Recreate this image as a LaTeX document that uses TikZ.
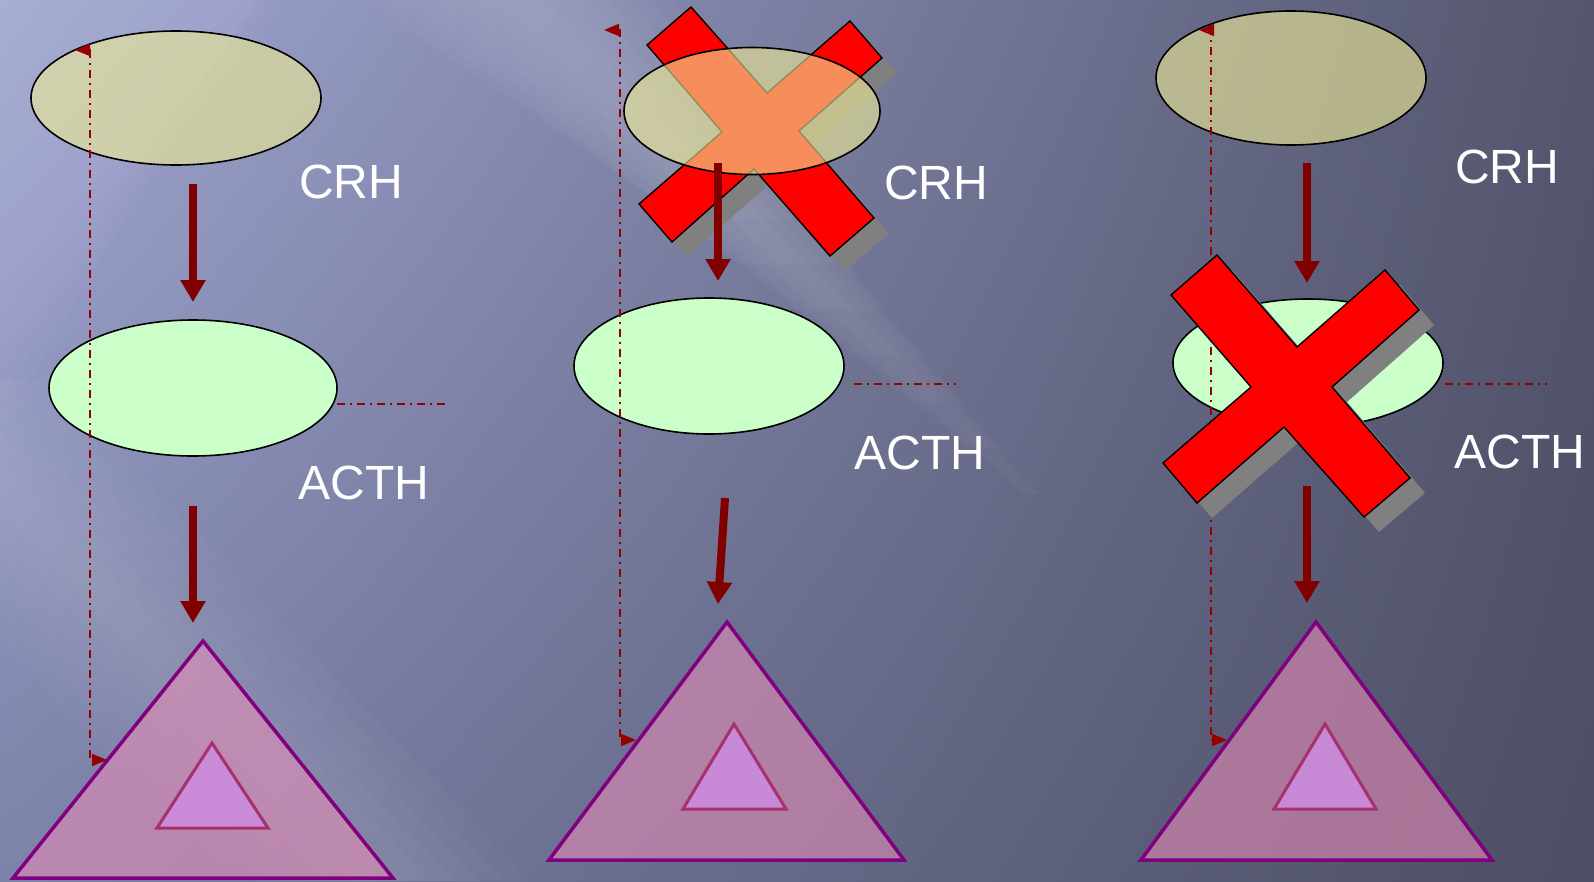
\documentclass[tikz,border=0pt]{standalone}
\usepackage{fontspec}
\setmainfont{Liberation Sans}
\usetikzlibrary{shapes.geometric,arrows.meta,shadings}

\definecolor{bgTL}{RGB}{162,168,212}
\definecolor{bgTR}{RGB}{84,86,110}
\definecolor{bgBL}{RGB}{125,130,168}
\definecolor{bgBR}{RGB}{76,78,100}
\definecolor{hypo}{RGB}{240,236,150}
\definecolor{pit}{RGB}{202,255,202}
\definecolor{adrOut}{RGB}{227,140,182}
\definecolor{adrIn}{RGB}{205,140,225}
\definecolor{adrEdge}{RGB}{128,0,128}
\definecolor{inEdge}{RGB}{165,50,110}
\definecolor{flow}{RGB}{128,0,0}
\definecolor{fb}{RGB}{150,0,0}
\definecolor{crossRed}{RGB}{255,0,0}
\definecolor{crossShadow}{RGB}{128,128,128}

\begin{document}
\begin{tikzpicture}[x=1pt,y=-1pt,
  gland/.style={ellipse, draw=black, line width=1.6pt, inner sep=0pt},
  hypostyle/.style={gland, fill=hypo, fill opacity=0.6},
  pitstyle/.style={gland, fill=pit},
  hormone/.style={text=white, font=\fontsize{48}{58}\selectfont, inner sep=0pt},
  flowarrow/.style={draw=flow, line width=8pt, -{Triangle[width=24pt,length=22pt]}},
  feedback/.style={draw=fb, line width=1.6pt, dash pattern=on 8pt off 5pt on 2pt off 5pt},
  feedbackloop/.style={feedback, {Triangle[width=12pt,length=15pt]}-{Triangle[width=12pt,length=15pt]}},
  cortex/.style={draw=adrEdge, line width=3.5pt, fill=adrOut, fill opacity=0.6, line join=miter},
  medulla/.style={draw=inEdge, line width=3pt, fill=adrIn, fill opacity=0.85, line join=miter},
  block/.style={draw=black, line width=1.4pt, fill=crossRed, line join=miter},
  blockshadow/.style={fill=crossShadow},
]

% ---------- background ----------
\useasboundingbox (0,0) rectangle (1594,881);
\begin{scope}
  \clip (0,0) rectangle (1594,881);
  \shade[upper left=bgTL, upper right=bgTR, lower left=bgBL, lower right=bgBR] (0,0) rectangle (1594,881);
  % soft diagonal light streaks, wider layers ending earlier
  \foreach \k in {1,...,7} {
    \pgfmathsetmacro\t{1-0.085*\k}
    \pgfmathsetmacro\ex{520+560*\t}
    \pgfmathsetmacro\ey{540*\t}
    \fill[white, opacity=0.028]
      (520-\k*22,0) -- (520+\k*22,0) -- (\ex+\k*9,\ey) -- (\ex-\k*9,\ey) -- cycle;
  }
  \foreach \k in {1,...,6} {
    \fill[white, opacity=0.025]
      (-100-\k*25,380) -- (-100+\k*25,380) -- (380+\k*25,881) -- (380-\k*25,881) -- cycle;
    \fill[white, opacity=0.02]
      (0,-\k*30) -- (300+\k*10,-\k*30) -- (0,250+\k*30) -- cycle;
  }
\end{scope}

% ---------- panel 1: intact axis ----------
\node[hypostyle, minimum width=290, minimum height=134] (h1) at (176,98) {};
\node[pitstyle, minimum width=288, minimum height=136] (p1) at (193,388) {};
\node[hormone] (crh1) at (351,182) {CRH};
\node[hormone] (acth1) at (364,483) {ACTH};
\coordinate (a1top) at (203,641);
\coordinate (a1l) at (13,878);
\coordinate (a1r) at (393,878);
\coordinate (m1top) at (212,743);
\coordinate (m1l) at (157,828);
\coordinate (m1r) at (268,828);
\path[cortex] (a1top) -- (a1r) -- (a1l) -- cycle;
\path[medulla] (m1top) -- (m1r) -- (m1l) -- cycle;
\coordinate (f1s) at (193,184);
\coordinate (f1e) at (193,302);
\coordinate (f2s) at (193,506);
\coordinate (f2e) at (193,623);
\draw[flowarrow] (f1s) -- (f1e);
\draw[flowarrow] (f2s) -- (f2e);
\coordinate (l1a) at (75,50);
\coordinate (l1b) at (90,50);
\coordinate (l1c) at (90,760);
\coordinate (l1d) at (107,760);
\draw[feedbackloop] (l1a) -- (l1b) -- (l1c) -- (l1d);
\coordinate (s1a) at (337,404);
\coordinate (s1b) at (450,404);
\draw[feedback] (s1a) -- (s1b);

% ---------- panel 2: hypothalamic block ----------
\begin{scope}[shift={(15,15)}]
  \fill[blockshadow] (647,45) -- (691,7) -- (767,93) -- (850,21) -- (882,58) -- (799,131)
    -- (874,218) -- (830,256) -- (754,169) -- (672,242) -- (639,204) -- (722,132) -- cycle;
\end{scope}
\path[block] (647,45) -- (691,7) -- (767,93) -- (850,21) -- (882,58) -- (799,131)
    -- (874,218) -- (830,256) -- (754,169) -- (672,242) -- (639,204) -- (722,132) -- cycle;
\node[hypostyle, minimum width=256, minimum height=127] (h2) at (752,111) {};
\node[pitstyle, minimum width=270, minimum height=136] (p2) at (709,366) {};
\node[hormone] (crh2) at (936,183) {CRH};
\node[hormone] (acth2) at (920,453) {ACTH};
\coordinate (a2top) at (727,622);
\coordinate (a2l) at (549,860);
\coordinate (a2r) at (904,860);
\coordinate (m2top) at (734,724);
\coordinate (m2l) at (683,809);
\coordinate (m2r) at (786,809);
\path[cortex] (a2top) -- (a2r) -- (a2l) -- cycle;
\path[medulla] (m2top) -- (m2r) -- (m2l) -- cycle;
\coordinate (f3s) at (718,163);
\coordinate (f3e) at (718,281);
\coordinate (f4s) at (725,498);
\coordinate (f4e) at (718,604);
\draw[flowarrow] (f3s) -- (f3e);
\draw[flowarrow] (f4s) -- (f4e);
\coordinate (l2a) at (604,30);
\coordinate (l2b) at (620,30);
\coordinate (l2c) at (620,740);
\coordinate (l2d) at (636,740);
\draw[feedbackloop] (l2a) -- (l2b) -- (l2c) -- (l2d);
\coordinate (s2a) at (854,384);
\coordinate (s2b) at (956,384);
\draw[feedback] (s2a) -- (s2b);

% ---------- panel 3: pituitary block ----------
\node[hypostyle, minimum width=270, minimum height=134] (h3) at (1291,78) {};
\node[pitstyle, minimum width=270, minimum height=128] (p3) at (1308,363) {};
\coordinate (l3a) at (1199,30);
\coordinate (l3b) at (1211,30);
\coordinate (l3c) at (1211,740);
\coordinate (l3d) at (1227,740);
\draw[feedbackloop] (l3a) -- (l3b) -- (l3c) -- (l3d);
\begin{scope}[shift={(15,15)}]
  \fill[blockshadow] (1171,295) -- (1217,255) -- (1297,347) -- (1385,270) -- (1419,310) -- (1332,387)
    -- (1410,478) -- (1364,517) -- (1284,427) -- (1197,503) -- (1163,463) -- (1251,387) -- cycle;
\end{scope}
\path[block] (1171,295) -- (1217,255) -- (1297,347) -- (1385,270) -- (1419,310) -- (1332,387)
    -- (1410,478) -- (1364,517) -- (1284,427) -- (1197,503) -- (1163,463) -- (1251,387) -- cycle;
\node[hormone] (crh3) at (1507,167) {CRH};
\node[hormone] (acth3) at (1520,452) {ACTH};
\coordinate (a3top) at (1316,622);
\coordinate (a3l) at (1141,860);
\coordinate (a3r) at (1492,860);
\coordinate (m3top) at (1325,724);
\coordinate (m3l) at (1274,809);
\coordinate (m3r) at (1376,809);
\path[cortex] (a3top) -- (a3r) -- (a3l) -- cycle;
\path[medulla] (m3top) -- (m3r) -- (m3l) -- cycle;
\coordinate (f5s) at (1307,163);
\coordinate (f5e) at (1307,283);
\coordinate (f6s) at (1307,486);
\coordinate (f6e) at (1307,603);
\draw[flowarrow] (f5s) -- (f5e);
\draw[flowarrow] (f6s) -- (f6e);
\coordinate (s3a) at (1445,384);
\coordinate (s3b) at (1547,384);
\draw[feedback] (s3a) -- (s3b);
\end{tikzpicture}
\end{document}
